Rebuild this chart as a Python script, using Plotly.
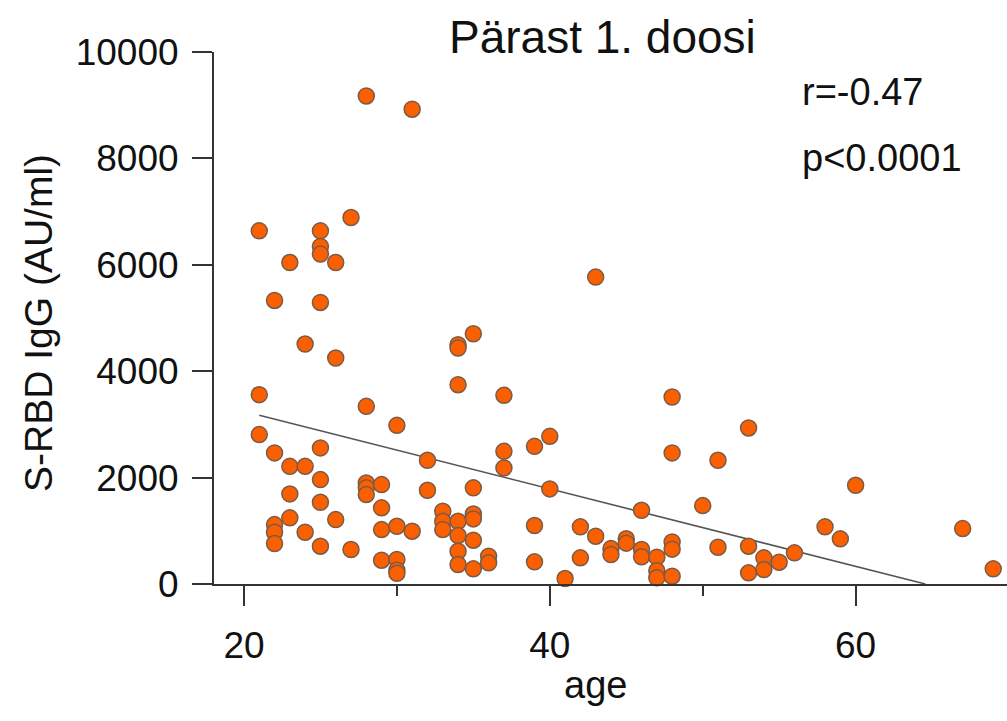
import plotly.graph_objects as go

# ---- data ----
age = (
    [21, 21, 21]
    + [22, 22, 22, 22, 22]
    + [23, 23, 23, 23]
    + [24, 24, 24]
    + [25, 25, 25, 25, 25, 25, 25, 25]
    + [26, 26, 26]
    + [27, 27]
    + [28, 28, 28, 28, 28]
    + [29, 29, 29, 29]
    + [30, 30, 30, 30, 30]
    + [31, 31]
    + [32, 32]
    + [33, 33, 33]
    + [34, 34, 34, 34, 34, 34, 34]
    + [35, 35, 35, 35, 35, 35]
    + [36, 36]
    + [37, 37, 37]
    + [39, 39, 39]
    + [40, 40]
    + [41]
    + [42, 42]
    + [43, 43]
    + [44, 44]
    + [45, 45]
    + [46, 46, 46]
    + [47, 47, 47]
    + [48, 48, 48, 48, 48]
    + [50]
    + [51, 51]
    + [53, 53, 53]
    + [54, 54]
    + [55]
    + [56]
    + [58]
    + [59]
    + [60]
    + [67]
    + [69]
)

igg = (
    [6638, 3559, 2808]
    + [5330, 2464, 1117, 973, 761]
    + [6043, 2212, 1694, 1243]
    + [4511, 2212, 973]
    + [6638, 6344, 6201, 5292, 2558, 1962, 1536, 710]
    + [6043, 4248, 1211]
    + [6888, 648]
    + [9174, 3339, 1900, 1807, 1681]
    + [1869, 1431, 1023, 447]
    + [2982, 1085, 460, 260, 200]
    + [8924, 992]
    + [2325, 1762]
    + [1367, 1179, 1023]
    + [4498, 4436, 3746, 1179, 911, 616, 366]
    + [4704, 1807, 1318, 1224, 823, 285]
    + [522, 398]
    + [3546, 2494, 2182]
    + [2588, 1099, 417]
    + [2776, 1788]
    + [103]
    + [1074, 492]
    + [5769, 898]
    + [665, 554]
    + [850, 768]
    + [1386, 648, 511]
    + [505, 250, 116]
    + [3515, 2464, 790, 655, 146]
    + [1474]
    + [2325, 691]
    + [2933, 710, 210]
    + [492, 272]
    + [409]
    + [586]
    + [1074]
    + [849]
    + [1855]
    + [1042]
    + [285]
)

# linear regression line as drawn in the reference
fit_intercept = 4700.0
fit_slope = -72.8

x_ticks = [20, 40, 60]
x_tick_labels = ["20", "40", "60"]
x_minor_ticks = [30, 50]
y_ticks = [0, 2000, 4000, 6000, 8000, 10000]
y_tick_labels = ["0", "2000", "4000", "6000", "8000", "10000"]

title_text = "Pärast 1. doosi"
x_title = "age"
y_title = "S-RBD IgG (AU/ml)"
stat_r = "r=-0.47"
stat_p = "p<0.0001"

# ---- figure ----
FONT = "Liberation Sans, Arial, Helvetica, sans-serif"
AXC = "#333333"
TXT = "#111111"
X_RANGE = [18.04, 69.9]

fit_x0 = min(age)
fit_x1 = -fit_intercept / fit_slope
fit_x = [fit_x0, fit_x1]
fit_y = [fit_intercept + fit_slope * v for v in fit_x]

fig = go.Figure()
fig.add_trace(go.Scatter(
    x=fit_x, y=fit_y, mode="lines",
    line=dict(color="#555555", width=1.6),
    hoverinfo="skip", showlegend=False,
))
fig.add_trace(go.Scatter(
    x=age, y=igg, mode="markers",
    marker=dict(size=16, color="#FA6000",
                line=dict(color="#7a5a48", width=1.5)),
    cliponaxis=False, showlegend=False,
))
# helper trace so the minor-tick axis is drawn
fig.add_trace(go.Scatter(
    x=[x_minor_ticks[0]], y=[None], xaxis="x2", yaxis="y",
    mode="markers", marker=dict(opacity=0), hoverinfo="skip", showlegend=False,
))

fig.update_layout(
    width=1007, height=721,
    margin=dict(l=214, r=0, t=52, b=137, pad=0),
    paper_bgcolor="white", plot_bgcolor="white",
    font=dict(family=FONT, color=TXT),
    showlegend=False,
    xaxis=dict(
        range=X_RANGE,
        tickmode="array", tickvals=x_ticks, ticktext=x_tick_labels,
        ticks="outside", ticklen=20, tickwidth=2, tickcolor=AXC,
        showline=True, linecolor=AXC, linewidth=2,
        showgrid=False, zeroline=False,
        tickfont=dict(size=37, family=FONT, color=TXT),
        ticklabelstandoff=8,
    ),
    xaxis2=dict(
        range=X_RANGE, overlaying="x", anchor="y", side="bottom",
        tickmode="array", tickvals=x_minor_ticks,
        ticks="outside", ticklen=11, tickwidth=2, tickcolor=AXC,
        showticklabels=False, showline=False,
        showgrid=False, zeroline=False,
    ),
    yaxis=dict(
        range=[0, 10000],
        tickmode="array", tickvals=y_ticks, ticktext=y_tick_labels,
        ticks="outside", ticklen=20, tickwidth=2, tickcolor=AXC,
        showline=True, linecolor=AXC, linewidth=2,
        showgrid=False, zeroline=False,
        tickfont=dict(size=37, family=FONT, color=TXT),
        ticklabelstandoff=6,
    ),
)

ann_font = dict(family=FONT, size=38, color=TXT)
fig.add_annotation(text=title_text, xref="paper", yref="paper",
                   x=0.4893, y=1.028, xanchor="center", yanchor="middle",
                   showarrow=False, font=dict(family=FONT, size=46, color=TXT))
fig.add_annotation(text=stat_r, xref="paper", yref="paper",
                   x=0.739, y=0.924, xanchor="left", yanchor="middle",
                   showarrow=False, font=ann_font)
fig.add_annotation(text=stat_p, xref="paper", yref="paper",
                   x=0.739, y=0.801, xanchor="left", yanchor="middle",
                   showarrow=False, font=ann_font)
fig.add_annotation(text=x_title, xref="paper", yref="paper",
                   x=0.4817, y=-0.19, xanchor="center", yanchor="middle",
                   showarrow=False, font=ann_font)
fig.add_annotation(text=y_title, xref="paper", yref="paper",
                   x=-0.222, y=0.4906, xanchor="center", yanchor="middle",
                   textangle=-90, showarrow=False,
                   font=dict(family=FONT, size=39, color=TXT))

fig.write_html("out.html")
